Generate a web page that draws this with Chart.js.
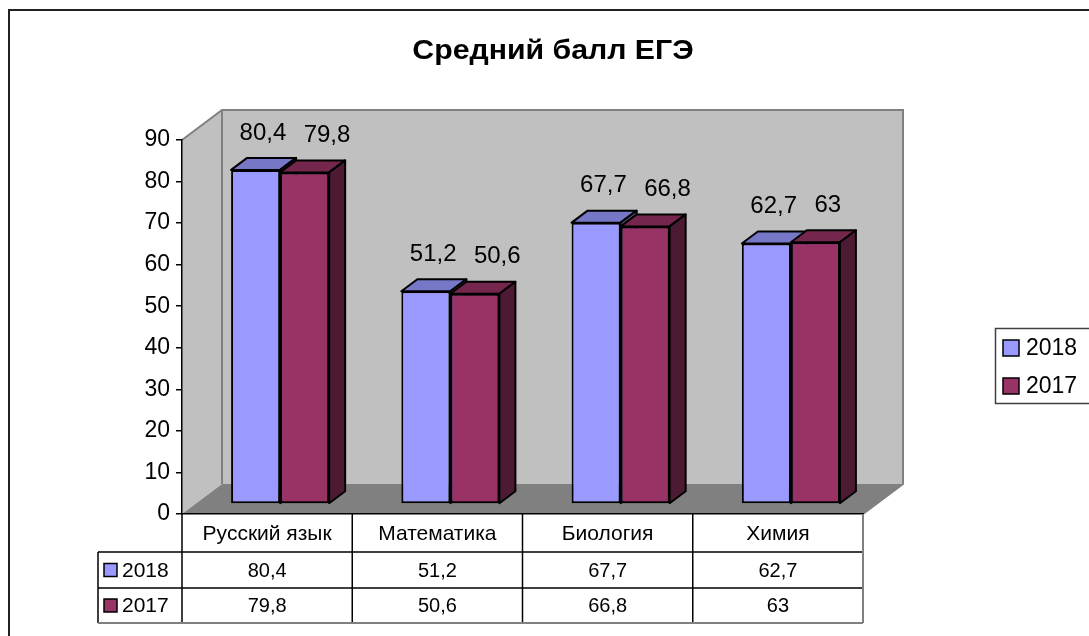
<!DOCTYPE html>
<html>
<head>
<meta charset="utf-8">
<script src="https://cdn.jsdelivr.net/npm/chart.js@4.4.1/dist/chart.umd.min.js"></script>
<style>html,body{margin:0;padding:0;background:#fff}canvas{display:block}</style>
</head>
<body>
<canvas id="c" width="1089" height="636"></canvas>
<script>
const chartTitle = 'Средний балл ЕГЭ';
const categories = ['Русский язык', 'Математика', 'Биология', 'Химия'];
const seriesNames = ['2018', '2017'];
const values2018 = [80.4, 51.2, 67.7, 62.7];
const values2017 = [79.8, 50.6, 66.8, 63];
const yTickMin = 0, yTickMax = 90, yTickStep = 10;

const FONT = '"Liberation Sans", Arial, sans-serif';
const FRONT = ['#9999FF', '#993366'];
const TOP = ['#7777C8', '#74264D'];
const SIDE = ['#5B5B99', '#4D1A33'];
const WALL = {x: 40, y: -30};
const SHIFT = {x: 13, y: -10};
const DEPTH = {x: 16, y: -12};
const LABEL_DX = [-3, 12];

const fmt = v => String(v).replace('.', ',');

function poly(ctx, pts, fill, stroke, lw) {
  ctx.beginPath();
  ctx.moveTo(pts[0][0], pts[0][1]);
  for (let i = 1; i < pts.length; i++) ctx.lineTo(pts[i][0], pts[i][1]);
  ctx.closePath();
  if (fill) { ctx.fillStyle = fill; ctx.fill(); }
  if (stroke) { ctx.strokeStyle = stroke; ctx.lineWidth = lw || 1; ctx.stroke(); }
}

const deco = {
  id: 'deco',
  beforeDraw(chart) {
    const ctx = chart.ctx;
    const {left, right, top, bottom} = chart.chartArea;
    ctx.save();
    ctx.fillStyle = '#fff';
    ctx.fillRect(0, 0, chart.width, chart.height);
    ctx.strokeStyle = '#222';
    ctx.lineWidth = 2;
    ctx.strokeRect(9, 10, 1300, 900);
    poly(ctx, [[left + WALL.x, top + WALL.y], [right + WALL.x, top + WALL.y], [right + WALL.x, bottom + WALL.y], [left + WALL.x, bottom + WALL.y]], '#C0C0C0');
    poly(ctx, [[left, top], [left + WALL.x, top + WALL.y], [left + WALL.x, bottom + WALL.y], [left, bottom]], '#C0C0C0');
    poly(ctx, [[left, bottom], [left + WALL.x, bottom + WALL.y], [right + WALL.x, bottom + WALL.y], [right, bottom]], '#808080');
    ctx.strokeStyle = '#808080';
    ctx.lineWidth = 2;
    ctx.beginPath();
    ctx.moveTo(left, top);
    ctx.lineTo(left + WALL.x, top + WALL.y);
    ctx.lineTo(right + WALL.x, top + WALL.y);
    ctx.lineTo(right + WALL.x, bottom + WALL.y);
    ctx.lineTo(right, bottom);
    ctx.moveTo(left + WALL.x, top + WALL.y);
    ctx.lineTo(left + WALL.x, bottom + WALL.y);
    ctx.stroke();
    ctx.restore();
  },
  beforeDatasetsDraw(chart) {
    chart.ctx.save();
    chart.ctx.translate(SHIFT.x, SHIFT.y);
  },
  afterDatasetsDraw(chart) {
    const ctx = chart.ctx;
    ctx.lineJoin = 'round';
    [0, 1].forEach(di => {
      const meta = chart.getDatasetMeta(di);
      meta.data.forEach(el => {
        if (di === 1) el.draw(ctx);
        const p = el.getProps(['x', 'y', 'base', 'width'], true);
        const l = p.x - p.width / 2, r = p.x + p.width / 2;
        poly(ctx, [[l, p.y], [l + DEPTH.x, p.y + DEPTH.y], [r + DEPTH.x, p.y + DEPTH.y], [r, p.y]], TOP[di], '#000', 2);
        poly(ctx, [[r, p.y], [r + DEPTH.x, p.y + DEPTH.y], [r + DEPTH.x, p.base + DEPTH.y], [r, p.base]], SIDE[di], '#000', 2);
      });
    });
    ctx.restore();
    // data labels
    ctx.save();
    ctx.fillStyle = '#000';
    ctx.font = '24px ' + FONT;
    ctx.textAlign = 'left';
    ctx.textBaseline = 'middle';
    [0, 1].forEach(di => {
      const meta = chart.getDatasetMeta(di);
      const ds = chart.data.datasets[di].data;
      meta.data.forEach((el, i) => {
        const p = el.getProps(['x', 'y'], true);
        ctx.fillText(fmt(ds[i]), p.x + LABEL_DX[di], p.y + SHIFT.y + DEPTH.y - 25);
      });
    });
    ctx.restore();
  },
  afterDraw(chart) {
    const ctx = chart.ctx;
    const {left, right, bottom} = chart.chartArea;
    const xs = chart.scales.x;
    const colW = (right - left) / categories.length;
    const rows = [552, 588, 623];
    const tableLeft = 98;
    ctx.save();
    ctx.strokeStyle = '#000';
    ctx.lineWidth = 1.5;
    ctx.beginPath();
    ctx.moveTo(tableLeft, rows[0]); ctx.lineTo(right, rows[0]);
    ctx.moveTo(tableLeft, rows[1]); ctx.lineTo(right, rows[1]);
    ctx.moveTo(tableLeft, rows[0]); ctx.lineTo(tableLeft, rows[2]);
    for (let k = 0; k < categories.length; k++) {
      ctx.moveTo(left + k * colW, bottom); ctx.lineTo(left + k * colW, rows[2]);
    }
    ctx.stroke();
    ctx.strokeStyle = '#808080';
    ctx.lineWidth = 2;
    ctx.beginPath();
    ctx.moveTo(tableLeft, rows[2]); ctx.lineTo(right, rows[2]);
    ctx.moveTo(right, bottom); ctx.lineTo(right, rows[2]);
    ctx.stroke();
    ctx.fillStyle = '#000';
    ctx.textBaseline = 'middle';
    const rowMid = [(rows[0] + rows[1]) / 2, (rows[1] + rows[2]) / 2];
    chart.data.datasets.forEach((ds, di) => {
      ctx.font = '20px ' + FONT;
      ctx.textAlign = 'center';
      ds.data.forEach((v, i) => {
        ctx.fillText(fmt(v), xs.getPixelForValue(i), rowMid[di] + 1);
      });
      ctx.fillStyle = FRONT[di];
      ctx.fillRect(104, rowMid[di] - 6.5, 13, 13);
      ctx.strokeStyle = '#000';
      ctx.lineWidth = 1.5;
      ctx.strokeRect(104, rowMid[di] - 6.5, 13, 13);
      ctx.fillStyle = '#000';
      ctx.font = '21px ' + FONT;
      ctx.textAlign = 'left';
      ctx.fillText(ds.label, 122, rowMid[di] + 1);
    });
    // legend
    ctx.strokeStyle = '#404040';
    ctx.lineWidth = 1.5;
    ctx.strokeRect(995.5, 328.5, 150, 75);
    const legY = [348, 386];
    chart.data.datasets.forEach((ds, di) => {
      ctx.fillStyle = FRONT[di];
      ctx.fillRect(1003, legY[di] - 8, 16, 16);
      ctx.strokeStyle = '#000';
      ctx.lineWidth = 1.5;
      ctx.strokeRect(1003, legY[di] - 8, 16, 16);
      ctx.fillStyle = '#000';
      ctx.font = '23px ' + FONT;
      ctx.textAlign = 'left';
      ctx.fillText(ds.label, 1026, legY[di] + 1);
    });
    // title (slightly widened like the reference)
    ctx.font = 'bold 27px ' + FONT;
    ctx.textAlign = 'center';
    ctx.translate(553, 52);
    ctx.scale(1.12, 1);
    ctx.fillText(chartTitle, 0, 0);
    ctx.restore();
  }
};

Chart.defaults.font.family = FONT;
Chart.defaults.color = '#000';

new Chart(document.getElementById('c'), {
  type: 'bar',
  data: {
    labels: categories,
    datasets: [
      {label: seriesNames[0], data: values2018, backgroundColor: FRONT[0], borderColor: '#000', borderWidth: 2, borderSkipped: false, clip: false},
      {label: seriesNames[1], data: values2017, backgroundColor: FRONT[1], borderColor: '#000', borderWidth: 2, borderSkipped: false, clip: false}
    ]
  },
  options: {
    responsive: false,
    animation: false,
    devicePixelRatio: 1,
    categoryPercentage: 0.576,
    barPercentage: 1.0,
    layout: {padding: {left: 0, top: 140, right: 226, bottom: 82}},
    plugins: {legend: {display: false}, title: {display: false}, tooltip: {enabled: false}},
    scales: {
      x: {
        offset: true,
        grid: {display: false, drawTicks: false},
        border: {display: true, color: '#000', width: 1.5},
        ticks: {font: {size: 21}, color: '#000', padding: 8, maxRotation: 0},
        afterFit(s) { s.height = 40; }
      },
      y: {
        min: yTickMin, max: yTickMax,
        ticks: {stepSize: yTickStep, font: {size: 23}, color: '#000', padding: 6},
        grid: {drawOnChartArea: false, drawTicks: true, tickLength: 6, color: '#000', lineWidth: 1.5},
        border: {display: true, color: '#000', width: 1.5},
        afterFit(s) { s.width = 182; }
      }
    }
  },
  plugins: [deco]
});
</script>
</body>
</html>
